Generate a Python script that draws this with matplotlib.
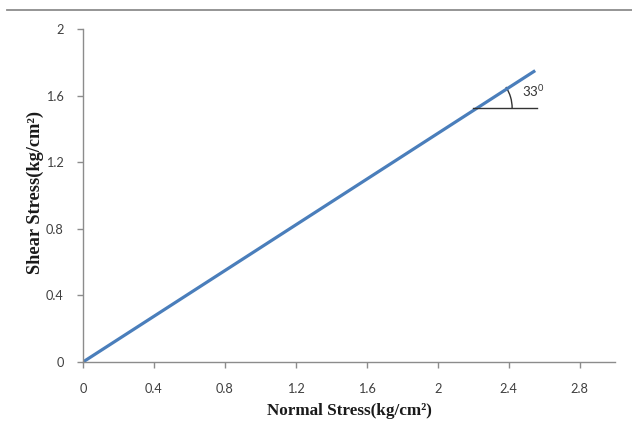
import numpy as np
import matplotlib
matplotlib.use("Agg")
import matplotlib.pyplot as plt
import matplotlib.transforms as mtransforms
from matplotlib.patches import Arc
from matplotlib.lines import Line2D

# data
normal_stress = [0.0, 2.55]
shear_stress = [0.0, 1.75]
x_ticks = [0, 0.4, 0.8, 1.2, 1.6, 2.0, 2.4, 2.8]
x_tick_labels = ["0", "0.4", "0.8", "1.2", "1.6", "2", "2.4", "2.8"]
y_ticks = [0, 0.4, 0.8, 1.2, 1.6, 2.0]
y_tick_labels = ["0", "0.4", "0.8", "1.2", "1.6", "2"]
angle_vertex = (2.2, 1.525)
angle_ref_end = 2.56
angle_label = "33"

plt.rcParams['mathtext.fontset'] = 'custom'
plt.rcParams['mathtext.rm'] = 'Lato'

W, H = 632, 434
fig = plt.figure(figsize=(W / 100, H / 100), dpi=100)
ax = fig.add_axes([83 / W, 1 - 362 / H, 532 / W, 333 / H])

line_color = '#4A7EBB'
ax.plot(normal_stress, shear_stress, color=line_color, lw=2.3, solid_capstyle='butt')

ax.set_xlim(0, 3.0)
ax.set_ylim(0, 2.0)
ax.set_xticks(x_ticks)
ax.set_xticklabels(x_tick_labels)
ax.set_yticks(y_ticks)
ax.set_yticklabels(y_tick_labels)

for s in ['top', 'right']:
    ax.spines[s].set_visible(False)
for s in ['left', 'bottom']:
    ax.spines[s].set_color('#8c8c8c')
    ax.spines[s].set_linewidth(1.0)
ax.tick_params(axis='both', direction='out', length=4, width=1.0, color='#8c8c8c',
               labelsize=9.2, labelcolor='#404040')
ax.tick_params(axis='x', pad=11)
ax.tick_params(axis='y', pad=10)
for lab in ax.get_xticklabels() + ax.get_yticklabels():
    lab.set_family('Lato')

# angle annotation
ax.plot([angle_vertex[0], angle_ref_end], [angle_vertex[1], angle_vertex[1]],
        color='#333333', lw=1.0)
p0 = ax.transData.transform((normal_stress[0], shear_stress[0]))
p1 = ax.transData.transform((normal_stress[1], shear_stress[1]))
theta = np.degrees(np.arctan2(p1[1] - p0[1], p1[0] - p0[0]))
offset = mtransforms.ScaledTranslation(angle_vertex[0], angle_vertex[1], ax.transData)
arc = Arc((0, 0), 78, 78, theta1=0, theta2=theta, color='#333333', lw=1.0,
          transform=mtransforms.IdentityTransform() + offset)
ax.add_patch(arc)
ax.text(2.475, 1.63, angle_label + r"$^{\mathregular{0}}$", fontsize=9.5, family='Lato',
        color='#333333', ha='left', va='center')

fig.text(349 / W, 1 - 411 / H, "Normal Stress(kg/cm²)", ha='center', va='center',
         family='Liberation Serif', fontweight='bold', fontsize=12.3, color='#1a1a1a')
fig.text(35 / W, 1 - 193 / H, "Shear Stress(kg/cm²)", ha='center', va='center',
         rotation=90, family='Liberation Serif', fontweight='bold', fontsize=13.2,
         color='#1a1a1a')

fig.add_artist(Line2D([7 / W, 1], [1 - 10 / H, 1 - 10 / H], transform=fig.transFigure,
                      color='#8c8c8c', lw=1.3))

fig.savefig('out.png', dpi=100)
